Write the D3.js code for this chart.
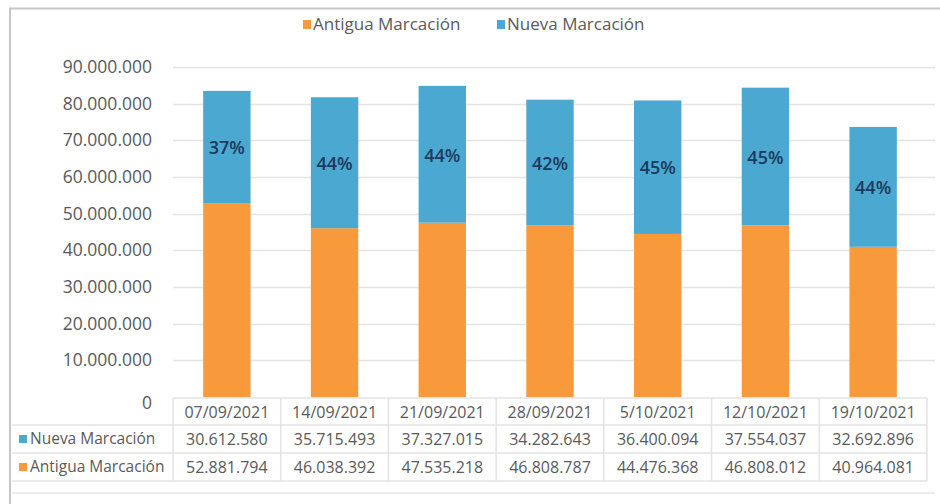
<!DOCTYPE html>
<html><head><meta charset="utf-8">
<script src="https://cdn.jsdelivr.net/npm/d3@7/dist/d3.min.js"></script>
<style>body{margin:0;background:#fff;}svg{display:block;font-family:"Open Sans",sans-serif;}</style>
</head><body>
<svg id="c" width="940" height="504"></svg>
<script>
const categories = ["07/09/2021","14/09/2021","21/09/2021","28/09/2021","5/10/2021","12/10/2021","19/10/2021"];
const antigua = [52881794,46038392,47535218,46808787,44476368,46808012,40964081];
const nueva = [30612580,35715493,37327015,34282643,36400094,37554037,32692896];
const yTicks = [0,10000000,20000000,30000000,40000000,50000000,60000000,70000000,80000000,90000000];
const seriesNames = ["Antigua Marcación","Nueva Marcación"];
const colors = {antigua:"#f89a3c", nueva:"#4ba8d0"};

(function(){
const svg = d3.select("#c");
const fmt = v => d3.format(",")(v).replace(/,/g,".");

// frame
svg.append("line").attr("x1",9).attr("x2",940).attr("y1",8.5).attr("y2",8.5).attr("stroke","#c6c6c6").attr("stroke-width",2);
svg.append("line").attr("x1",10).attr("x2",10).attr("y1",8).attr("y2",504).attr("stroke","#c6c6c6").attr("stroke-width",2);

const pl = 173, pr = 927, pt = 67, pb = 397;
const x = d3.scaleBand().domain(categories).range([pl,pr]).paddingInner(0.56).paddingOuter(0.28);
const y = d3.scaleLinear().domain([0,90000000]).range([pb,pt]);

// gridlines
svg.append("g").selectAll("line").data(yTicks.slice(1)).join("line")
  .attr("x1",pl).attr("x2",935).attr("y1",d=>Math.round(y(d))+0.5).attr("y2",d=>Math.round(y(d))+0.5)
  .attr("stroke","#e4e4e4").attr("stroke-width",1.5);

// y labels
const yAxis = d3.axisLeft(y).tickValues(yTicks).tickFormat(fmt).tickSize(0).tickPadding(0);
const ga = svg.append("g").attr("transform","translate(152,0)").call(yAxis);
ga.select(".domain").remove();
ga.selectAll("text").attr("fill","#5a5a5a").style("font-size","17.5px").style("font-family","'Open Sans',sans-serif");
ga.selectAll(".tick").filter(d=>d===0).select("text").attr("dy","0.65em");

// bars
const data = categories.map((c,i)=>({c,a:antigua[i],n:nueva[i]}));
svg.append("g").selectAll("rect").data(data).join("rect")
  .attr("x",d=>x(d.c)).attr("width",x.bandwidth())
  .attr("y",d=>y(d.a)).attr("height",d=>y(0)-y(d.a)).attr("fill",colors.antigua);
svg.append("g").selectAll("rect").data(data).join("rect")
  .attr("x",d=>x(d.c)).attr("width",x.bandwidth())
  .attr("y",d=>y(d.a+d.n)).attr("height",d=>y(d.a)-y(d.a+d.n)).attr("fill",colors.nueva);
svg.append("g").selectAll("text").data(data).join("text")
  .attr("x",d=>x(d.c)+x.bandwidth()/2).attr("y",d=>y(d.a+d.n/2)+1).attr("dy","0.35em")
  .attr("text-anchor","middle").attr("fill","#1c3a5e").style("font-size","18px").style("font-weight","600")
  .text(d=>Math.round(d.n/(d.a+d.n)*100)+"%");

// legend
const lg = svg.append("g");
const legendItems = [{name:seriesNames[0],color:colors.antigua,x:303},{name:seriesNames[1],color:colors.nueva,x:497}];
legendItems.forEach(it=>{
  lg.append("rect").attr("x",it.x).attr("y",20).attr("width",8).attr("height",9).attr("fill",it.color);
  lg.append("text").attr("x",it.x+10).attr("y",24).attr("dy","0.35em").attr("fill","#5a5a5a").style("font-size","17px").text(it.name);
});

// table
const tb = svg.append("g");
const colW = (pr-pl)/categories.length;
const rowY = [398,425,453,481];
const lineC = "#e3e3e3";
tb.append("line").attr("x1",pl).attr("x2",pr).attr("y1",rowY[0]).attr("y2",rowY[0]).attr("stroke",lineC).attr("stroke-width",1.5);
[1,2,3].forEach(k=>tb.append("line").attr("x1",12).attr("x2",pr).attr("y1",rowY[k]).attr("y2",rowY[k]).attr("stroke",lineC).attr("stroke-width",1.5));
for(let k=0;k<=categories.length;k++){
  tb.append("line").attr("x1",pl+k*colW).attr("x2",pl+k*colW).attr("y1",rowY[0]).attr("y2",rowY[3]).attr("stroke",lineC).attr("stroke-width",1.5);
}
tb.append("line").attr("x1",12).attr("x2",935).attr("y1",493).attr("y2",493).attr("stroke","#e6e6e6").attr("stroke-width",1.5);

const tStyle = s=>s.attr("fill","#5a5a5a").style("font-size","16px").attr("text-anchor","middle").attr("dy","0.35em");
categories.forEach((c,i)=>{
  const cx = pl+(i+0.5)*colW;
  tb.append("text").attr("x",cx).attr("y",(rowY[0]+rowY[1])/2+1).call(tStyle).text(c);
  tb.append("text").attr("x",cx).attr("y",(rowY[1]+rowY[2])/2).call(tStyle).text(fmt(nueva[i]));
  tb.append("text").attr("x",cx).attr("y",(rowY[2]+rowY[3])/2).call(tStyle).text(fmt(antigua[i]));
});
const rowLabels = [{name:seriesNames[1],color:colors.nueva,k:1},{name:seriesNames[0],color:colors.antigua,k:2}];
rowLabels.forEach(r=>{
  const cy=(rowY[r.k]+rowY[r.k+1])/2;
  tb.append("rect").attr("x",19).attr("y",cy-4).attr("width",8).attr("height",8).attr("fill",r.color);
  tb.append("text").attr("x",30).attr("y",cy).attr("dy","0.35em").attr("fill","#5a5a5a").style("font-size","15.5px").text(r.name);
});
})();
</script>
</body></html>
